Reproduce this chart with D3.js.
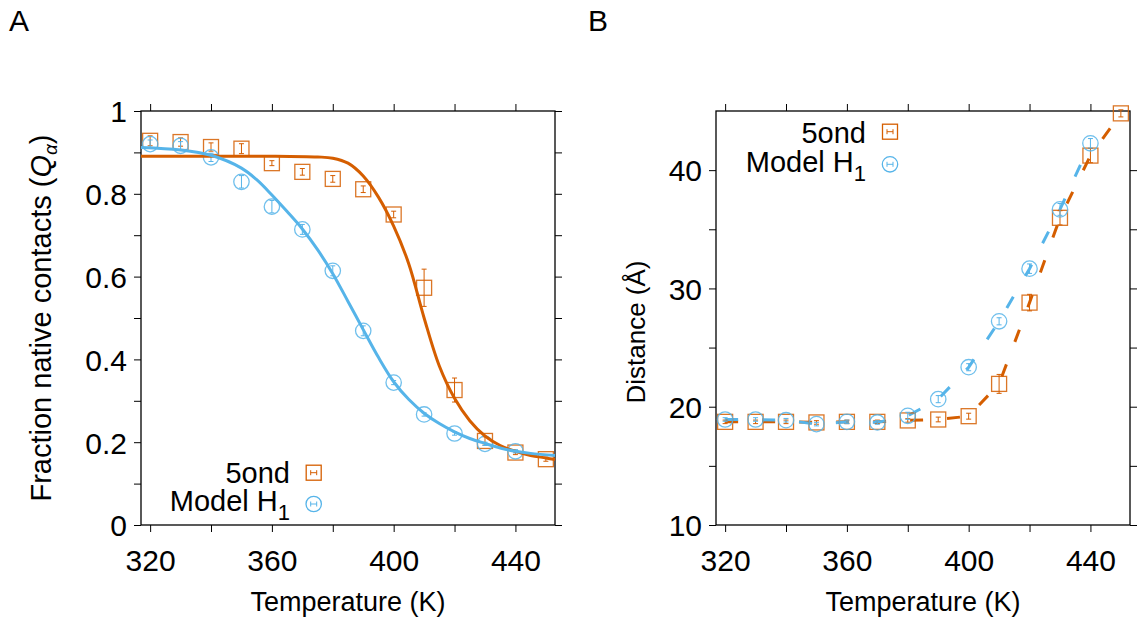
<!DOCTYPE html>
<html>
<head>
<meta charset="utf-8">
<script src="https://cdn.jsdelivr.net/npm/d3@7"></script>
<style>
body { margin: 0; background: #fff; }
svg text { font-family: "Liberation Sans", Arial, Helvetica, sans-serif; fill: #000; }
</style>
</head>
<body>
<div id="chart"></div>
<script>
// temperatures (K)
var temps = [320, 330, 340, 350, 360, 370, 380, 390, 400, 410, 420, 430, 440, 450];
var tempsH1 = [320, 330, 340, 350, 360, 370, 380, 390, 400, 410, 420, 430, 440];

// panel A: fraction of native contacts
var qOnd    = [0.928, 0.925, 0.913, 0.909, 0.874, 0.853, 0.836, 0.811, 0.750, 0.573, 0.326, 0.203, 0.175, 0.159];
var qOndErr = [0.012, 0.010, 0.010, 0.012, 0.006, 0.008, 0.008, 0.008, 0.008, 0.045, 0.029, 0.010, 0.005, 0.005];
var qH1     = [0.920, 0.916, 0.888, 0.829, 0.769, 0.714, 0.614, 0.469, 0.344, 0.267, 0.221, 0.196, 0.178];
var qH1Err  = [0.010, 0.010, 0.010, 0.015, 0.015, 0.012, 0.012, 0.012, 0.005, 0.004, 0.004, 0.004, 0.004];

// fitted curves
var ondFitT = [317, 340, 360, 375, 380, 385, 390, 395, 400, 405, 410, 415, 420, 425, 430, 435, 440, 445, 450, 453];
var ondFitQ = [0.891, 0.891, 0.891, 0.889, 0.886, 0.874, 0.843, 0.792, 0.722, 0.630, 0.500, 0.384, 0.306, 0.252, 0.215, 0.192, 0.178, 0.168, 0.162, 0.158];
var h1FitT  = [317, 330, 340, 350, 355, 360, 365, 370, 375, 380, 385, 390, 395, 400, 405, 410, 415, 420, 425, 430, 435, 440, 445, 453];
var h1FitQ  = [0.912, 0.906, 0.893, 0.862, 0.834, 0.797, 0.757, 0.715, 0.665, 0.607, 0.540, 0.472, 0.405, 0.346, 0.303, 0.270, 0.245, 0.225, 0.209, 0.197, 0.186, 0.178, 0.173, 0.168];

// panel B: distance (Å)
var dOnd    = [18.72, 18.72, 18.72, 18.67, 18.72, 18.72, 18.84, 18.92, 19.20, 21.93, 28.80, 35.97, 41.23, 44.80];
var dOndErr = [0.15, 0.15, 0.15, 0.15, 0.15, 0.15, 0.15, 0.2, 0.25, 0.8, 0.7, 0.6, 0.6, 0.3];
var dH1     = [18.92, 18.92, 18.86, 18.53, 18.72, 18.67, 19.23, 20.64, 23.34, 27.22, 31.67, 36.68, 42.27];
var dH1Err  = [0.15, 0.15, 0.15, 0.15, 0.15, 0.15, 0.3, 0.3, 0.3, 0.3, 0.4, 0.5, 0.4];

var xTicks = [320, 360, 400, 440];
var xMinor = [340, 380, 420];
var qTicks = [0, 0.2, 0.4, 0.6, 0.8, 1];
var qMinor = [0.1, 0.3, 0.5, 0.7, 0.9];
var dTicks = [10, 20, 30, 40];
var dMinor = [15, 25, 35];

var orange = "#d55e00";
var blue = "#56b4e9";

var svg = d3.select("#chart").append("svg")
    .attr("width", 1138)
    .attr("height", 620);
svg.append("rect").attr("width", 1138).attr("height", 620).attr("fill", "#fff");

function drawPanel(p) {
    var x = d3.scaleLinear().domain([317, 453]).range([p.left, p.right]);
    var y = d3.scaleLinear().domain(p.yDomain).range([p.bottom, p.top]);
    var g = svg.append("g");

    // ticks on all four sides, pointing out
    function ticks(axis, vals, tx, ty, labels) {
        var a = g.append("g").attr("transform", "translate(" + tx + "," + ty + ")")
            .call(axis.tickValues(vals).tickSize(7).tickSizeOuter(0)
                .tickFormat(labels ? d3.format("") : ""));
        a.select(".domain").remove();
        a.selectAll("line").attr("stroke", "#000").attr("stroke-width", 1);
        return a;
    }
    var xb = ticks(d3.axisBottom(x), xTicks, 0, p.bottom, true);
    xb.selectAll("text").attr("y", 46).attr("dy", 0).style("font-size", "30px");
    ticks(d3.axisBottom(x), xMinor, 0, p.bottom, false);
    ticks(d3.axisTop(x), xTicks.concat(xMinor), 0, p.top, false);
    var yl = ticks(d3.axisLeft(y), p.yTicks, p.left, 0, true);
    yl.selectAll("text").attr("x", -14).attr("dy", "0.36em").style("font-size", "30px");
    ticks(d3.axisLeft(y), p.yMinor, p.left, 0, false);
    ticks(d3.axisRight(y), p.yTicks.concat(p.yMinor), p.right, 0, false);

    g.append("rect")
        .attr("x", p.left).attr("y", p.top)
        .attr("width", p.right - p.left).attr("height", p.bottom - p.top)
        .attr("fill", "none").attr("stroke", "#000").attr("stroke-width", 1.3);

    // x title
    g.append("text")
        .attr("x", (p.left + p.right) / 2).attr("y", 611)
        .attr("text-anchor", "middle").style("font-size", "27px")
        .text("Temperature (K)");

    // panel letter
    g.append("text").attr("x", p.letterX).attr("y", 31)
        .style("font-size", "30px").text(p.letter);

    return {x: x, y: y, g: g};
}

function errorBars(g, x, y, ts, vals, errs, color) {
    var e = g.append("g").attr("stroke", color).attr("stroke-width", 1).attr("fill", "none");
    ts.forEach(function(t, i) {
        var cx = x(t), y0 = y(vals[i] - errs[i]), y1 = y(vals[i] + errs[i]);
        e.append("line").attr("x1", cx).attr("x2", cx).attr("y1", y0).attr("y2", y1);
        e.append("line").attr("x1", cx - 2.5).attr("x2", cx + 2.5).attr("y1", y0).attr("y2", y0);
        e.append("line").attr("x1", cx - 2.5).attr("x2", cx + 2.5).attr("y1", y1).attr("y2", y1);
    });
}

function squares(g, x, y, ts, vals) {
    g.append("g").selectAll("rect").data(ts).enter().append("rect")
        .attr("x", function(d) { return x(d) - 7.5; })
        .attr("y", function(d, i) { return y(vals[i]) - 7.5; })
        .attr("width", 15).attr("height", 15)
        .attr("fill", "none").attr("stroke", orange).attr("stroke-width", 1.3).attr("opacity", 0.85);
}

function circles(g, x, y, ts, vals) {
    g.append("g").selectAll("circle").data(ts).enter().append("circle")
        .attr("cx", function(d) { return x(d); })
        .attr("cy", function(d, i) { return y(vals[i]); })
        .attr("r", 7.7)
        .attr("fill", "none").attr("stroke", blue).attr("stroke-width", 1.3).attr("opacity", 0.85);
}

function legend(g, tx, textY1, textY2, keyY1, keyY2, keyX) {
    g.append("text").attr("x", tx).attr("y", textY1).attr("text-anchor", "end")
        .style("font-size", "29px").text("5ond");
    var t2 = g.append("text").attr("x", tx).attr("y", textY2).attr("text-anchor", "end")
        .style("font-size", "29px");
    t2.append("tspan").text("Model H");
    t2.append("tspan").attr("dy", 9).style("font-size", "22px").text("1");

    g.append("rect").attr("x", keyX - 7.5).attr("y", keyY1 - 7.5).attr("width", 15).attr("height", 15)
        .attr("fill", "none").attr("stroke", orange).attr("stroke-width", 1.3);
    g.append("circle").attr("cx", keyX).attr("cy", keyY2).attr("r", 7.7)
        .attr("fill", "none").attr("stroke", blue).attr("stroke-width", 1.3);
    [[keyY1, orange], [keyY2, blue]].forEach(function(k) {
        var h = g.append("g").attr("stroke", k[1]).attr("stroke-width", 1);
        h.append("line").attr("x1", keyX - 3).attr("x2", keyX + 3).attr("y1", k[0]).attr("y2", k[0]);
        h.append("line").attr("x1", keyX - 3).attr("x2", keyX - 3).attr("y1", k[0] - 2.5).attr("y2", k[0] + 2.5);
        h.append("line").attr("x1", keyX + 3).attr("x2", keyX + 3).attr("y1", k[0] - 2.5).attr("y2", k[0] + 2.5);
    });
}

// ---- panel A ----
var A = drawPanel({left: 141, right: 555, top: 111, bottom: 525, yDomain: [0, 1],
    yTicks: qTicks, yMinor: qMinor, letter: "A", letterX: 9});

errorBars(A.g, A.x, A.y, temps, qOnd, qOndErr, orange);
squares(A.g, A.x, A.y, temps, qOnd);
errorBars(A.g, A.x, A.y, tempsH1, qH1, qH1Err, blue);
circles(A.g, A.x, A.y, tempsH1, qH1);

var fitLine = d3.line().curve(d3.curveCatmullRom.alpha(0.5));
A.g.append("path")
    .attr("d", fitLine(ondFitT.map(function(t, i) { return [A.x(t), A.y(ondFitQ[i])]; })))
    .attr("fill", "none").attr("stroke", orange).attr("stroke-width", 3);
A.g.append("path")
    .attr("d", fitLine(h1FitT.map(function(t, i) { return [A.x(t), A.y(h1FitQ[i])]; })))
    .attr("fill", "none").attr("stroke", blue).attr("stroke-width", 3);

legend(A.g, 290, 483, 511, 472.7, 504, 313.7);

var ya = A.g.append("text")
    .attr("transform", "translate(51,318) rotate(-90)")
    .attr("text-anchor", "middle").style("font-size", "29px");
ya.append("tspan").text("Fraction native contacts (");
ya.append("tspan").style("font-style", "italic").text("Q");
ya.append("tspan").attr("dy", 6).style("font-size", "19px").style("font-style", "italic").text("α");
ya.append("tspan").attr("dy", -6).text(")");

// ---- panel B ----
var B = drawPanel({left: 716, right: 1130, top: 111, bottom: 525, yDomain: [10, 45],
    yTicks: dTicks, yMinor: dMinor, letter: "B", letterX: 588});

var dash = d3.line();
B.g.append("path")
    .attr("d", dash(temps.map(function(t, i) { return [B.x(t), B.y(dOnd[i])]; })))
    .attr("fill", "none").attr("stroke", orange).attr("stroke-width", 3)
    .attr("stroke-dasharray", "13,24");
B.g.append("path")
    .attr("d", dash(tempsH1.map(function(t, i) { return [B.x(t), B.y(dH1[i])]; })))
    .attr("fill", "none").attr("stroke", blue).attr("stroke-width", 3)
    .attr("stroke-dasharray", "13,24");

errorBars(B.g, B.x, B.y, temps, dOnd, dOndErr, orange);
squares(B.g, B.x, B.y, temps, dOnd);
errorBars(B.g, B.x, B.y, tempsH1, dH1, dH1Err, blue);
circles(B.g, B.x, B.y, tempsH1, dH1);

legend(B.g, 866, 142.7, 171.7, 131.7, 164.3, 890);

B.g.append("text")
    .attr("transform", "translate(645,332) rotate(-90)")
    .attr("text-anchor", "middle").style("font-size", "26px")
    .text("Distance (Å)");
</script>
</body>
</html>
